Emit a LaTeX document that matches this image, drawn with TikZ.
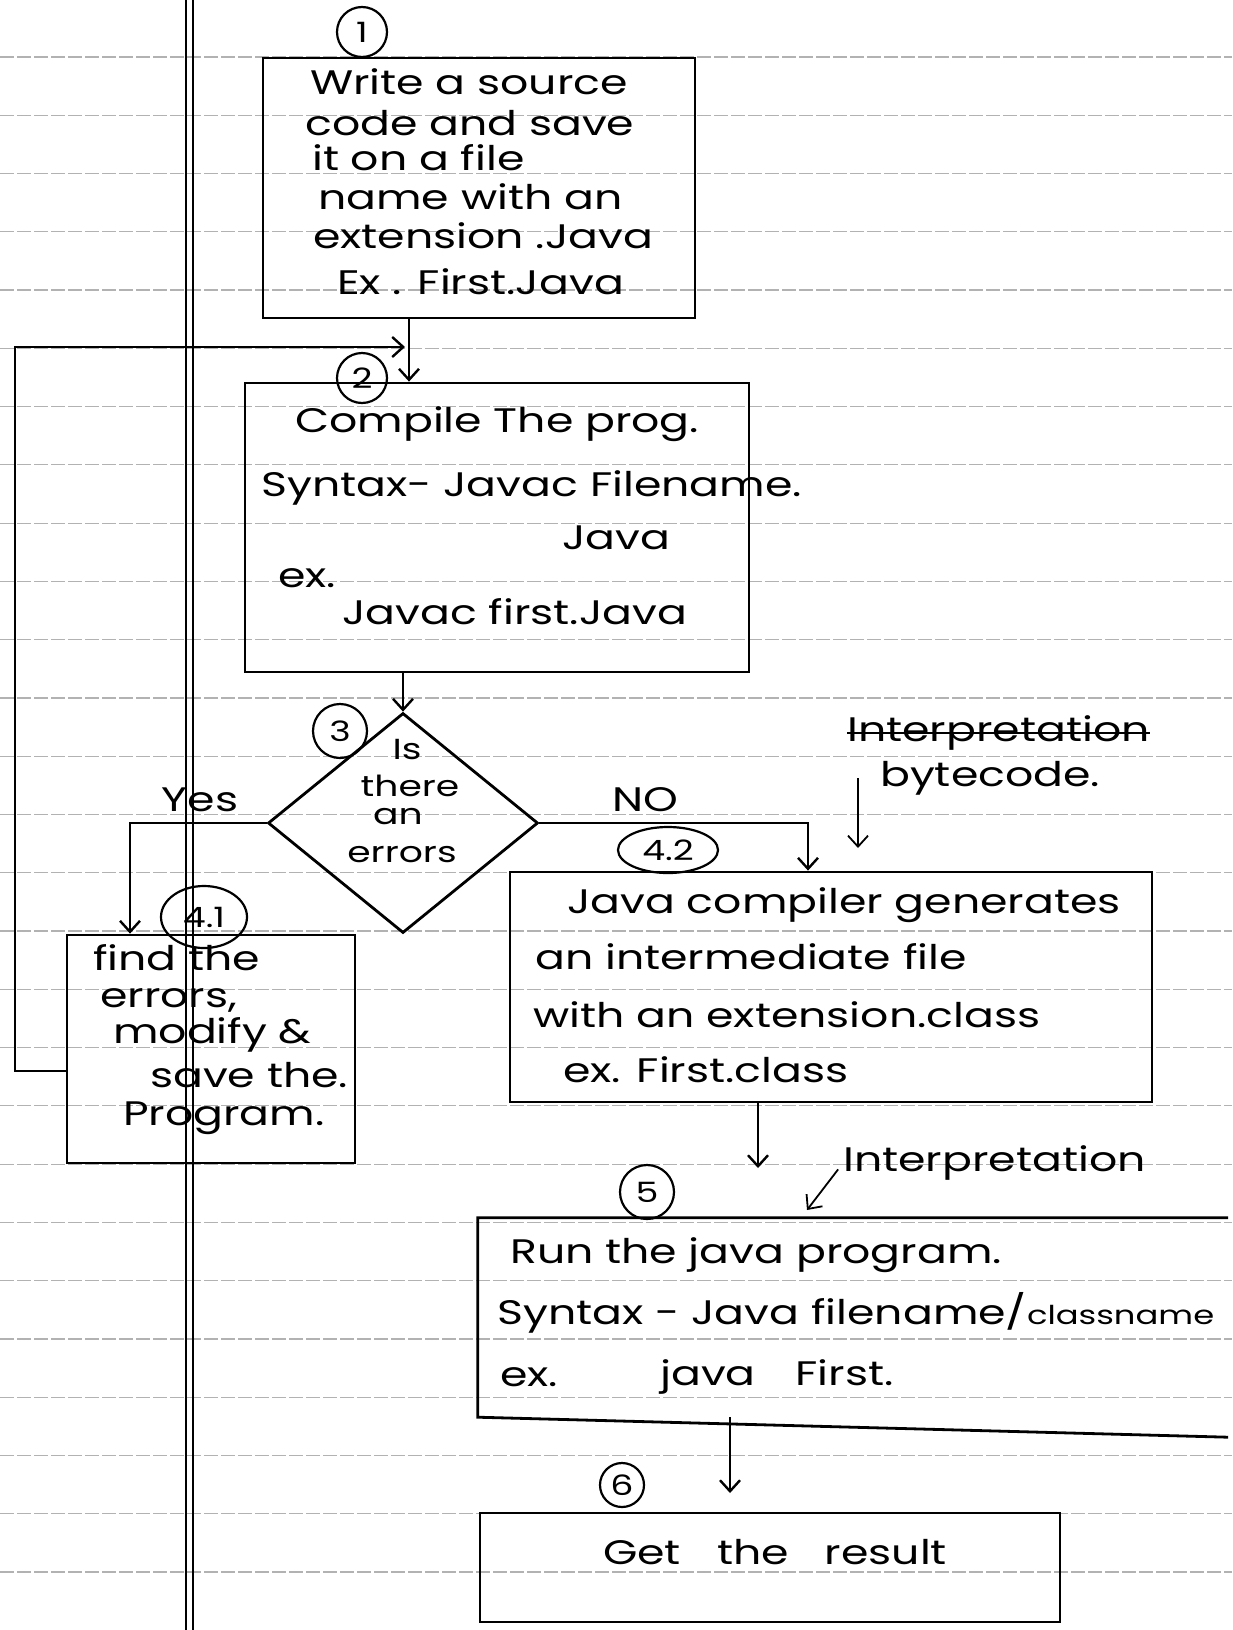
\documentclass[tikz,border=0pt]{standalone}
\usepackage{fontspec}
\setmainfont[FakeStretch=1.3]{Poppins}
\usetikzlibrary{arrows.meta, positioning, shapes.geometric}

\tikzset{
  hand/.style={font=\fontsize{34}{40}\selectfont, inner sep=0pt, anchor=west},
  small hand/.style={font=\fontsize{29}{32}\selectfont, inner sep=0pt, anchor=center},
  stepbox/.style={draw, line width=2.8pt, inner sep=0pt},
  flow/.style={line width=2.4pt, -{Straight Barb[length=11pt,width=20pt]}},
  num/.style={draw, circle, line width=2.2pt, inner sep=0pt, font=\fontsize{28}{30}\selectfont},
  numov/.style={draw, ellipse, line width=2.2pt, inner sep=0pt, font=\fontsize{28}{30}\selectfont},
  rule/.style={gray!60, line width=1.2pt, dash pattern=on 14pt off 3pt},
}

\begin{document}
\begin{tikzpicture}[x=1pt, y=-1pt]
  \useasboundingbox[fill=white] (0,0) rectangle (1232,1630);
  % ruled paper
  \foreach \k in {0,...,27}
    \draw[rule] (0,{57+58.27*\k}) -- (1232,{57+58.27*\k});
  \draw[line width=1.2pt] (186,0) -- (186,1630);
  \draw[line width=1.2pt] (193,0) -- (193,1630);

  % boxes
  \node[stepbox, minimum width=432pt, minimum height=260pt] (write) at (479,188) {};
  \node[stepbox, minimum width=504pt, minimum height=289pt] (compile) at (497,527.5) {};
  \node[draw, diamond, line width=2.8pt, minimum width=270pt, minimum height=220pt, inner sep=0pt] (dec) at (403,823) {};
  \node[stepbox, minimum width=288pt, minimum height=228pt] (fix) at (211,1049) {};
  \node[stepbox, minimum width=642pt, minimum height=230pt] (gen) at (831,987) {};
  \node[minimum width=750pt, minimum height=199pt, inner sep=0pt] (run) at (853,1317.5) {};
  \draw[line width=2.8pt] (run.north east) -- (run.north west) -- (run.south west) -- ([yshift=-20pt]run.south east);
  \node[stepbox, minimum width=580pt, minimum height=109pt] (res) at (770,1567.5) {};

  % step numbers
  \node[num, minimum size=50pt] (n1) at (362,32) {1};
  \node[num, minimum size=50pt] (n2) at (362,378) {2};
  \node[num, minimum size=54pt] (n3) at (340,731) {3};
  \node[numov, minimum width=86pt, minimum height=62pt] (n41) at (204,917) {4.1};
  \node[numov, minimum width=100pt, minimum height=46pt] (n42) at (668,850) {4.2};
  \node[num, minimum size=54pt] (n5) at (647,1192) {5};
  \node[num, minimum size=44pt] (n6) at (622,1485) {6};

  % step 1
  \node[hand] (w1) at (310,82) {Write a source};
  \node[hand] (w2) at (305,123) {code and save};
  \node[hand] (w3) at (312,158) {it on a file};
  \node[hand] (w4) at (318,197) {name with an};
  \node[hand] (w5) at (313,236) {extension .Java};
  \node[hand] (w6) at (337,282) {Ex . First.Java};

  % step 2
  \node[hand] (c1) at (295,424) {Compile The prog.};
  \node[hand] (c2) at (261,488) {Syntax- Javac Filename.};
  \node[hand] (c3) at (562,538) {Java};
  \node[hand] (c4) at (278,578) {ex.};
  \node[hand] (c5) at (342,612) {Javac first.Java};

  % step 3
  \node[small hand] (d1) at (407,750) {Is};
  \node[small hand] (d2) at (410,786) {there};
  \node[small hand] (d3) at (398,817) {an};
  \node[small hand] (d4) at (402,855) {errors};
  \node[hand, anchor=center] (yes) at (200,800) {Yes};
  \node[hand, anchor=center] (no) at (645,800) {NO};

  % step 4.1
  \node[hand] (f1) at (93,958) {find the};
  \node[hand] (f2) at (100,1000) {errors,};
  \node[hand] (f3) at (113,1035) {modify \&};
  \node[hand] (f4) at (150,1075) {save the.};
  \node[hand] (f5) at (123,1118) {Program.};

  % step 4.2
  \node[hand] (intp1) at (847,733) {Interpretation};
  \draw[line width=1.8pt] (intp1.west) -- (intp1.east);
  \node[hand] (byte) at (880,778) {bytecode.};
  \node[hand] (g1) at (567,905) {Java compiler generates};
  \node[hand] (g2) at (535,957) {an intermediate file};
  \node[hand] (g3) at (533,1015) {with an extension.class};
  \node[hand] (g4) at (563,1070) {ex. First.class};

  % step 5
  \node[hand] (intp2) at (843,1163) {Interpretation};
  \node[hand] (r1) at (510,1255) {Run the java program.};
  \node[hand] (r2) at (497,1313) {Syntax - Java filename/{\fontsize{26}{30}\selectfont classname}};
  \node[hand] (r3) at (500,1377) {ex.};
  \node[hand] (r4) at (660,1377) {java\hspace{40pt}First.};

  % step 6
  \node[hand] (s1) at (603,1552) {Get\hspace{36pt}the\hspace{36pt}result};

  % connectors
  \coordinate (j1) at (409,347);
  \draw[flow] (write.south -| j1) -- (compile.north -| j1);
  \draw[flow] (compile.south -| dec.north) -- (dec.north);
  \coordinate (yb) at (130,823);
  \draw[flow] (dec.west) -- (yb) -- (fix.north -| yb);
  \coordinate (nb) at (808,823);
  \draw[flow] (dec.east) -- (nb) -- (gen.north -| nb);
  % back to compile
  \coordinate (lp) at (15,1071);
  \draw[flow, shorten >=4pt] (fix.west |- lp) -- (lp) -- (lp |- j1) -- (j1);
  \coordinate (bt) at (858,848);
  \draw[flow, line width=1.8pt] (bt |- byte.west) -- (bt);
  \coordinate (ga) at (758,1168);
  \draw[flow] (gen.south -| ga) -- (ga);
  \coordinate (ip) at (807,1210);
  \draw[flow, line width=1.8pt, shorten <=8pt] (intp2.west) -- (ip);
  \coordinate (ra) at (730,1493);
  \draw[flow] (run.south -| ra) -- (ra);
\end{tikzpicture}
\end{document}
